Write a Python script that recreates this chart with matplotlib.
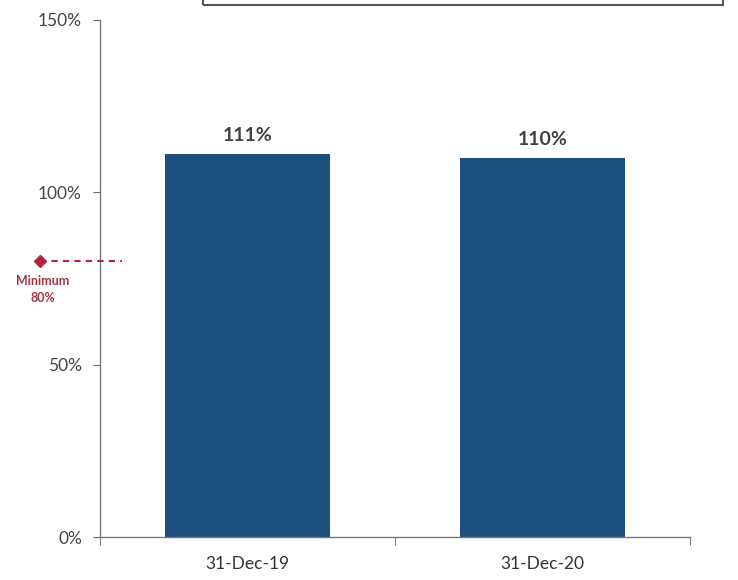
import matplotlib
matplotlib.use("Agg")
import matplotlib.pyplot as plt
from matplotlib.ticker import FixedLocator
from matplotlib.patches import Rectangle

categories = ["31-Dec-19", "31-Dec-20"]
values = [111, 110]
value_labels = ["111%", "110%"]
yticks = [0, 50, 100, 150]
ytick_labels = ["0%", "50%", "100%", "150%"]
minimum = 80
minimum_label = "Minimum\n80%"

plt.rcParams['font.family'] = ['Lato', 'DejaVu Sans']

fig = plt.figure(figsize=(7.38, 5.8), dpi=100)
ax = fig.add_axes([100/738, 1-537/580, 590/738, 517/580])

x = list(range(len(categories)))
ax.bar(x, values, width=0.56, color="#1d4f7e", zorder=2)
for xi, v, lab in zip(x, values, value_labels):
    ax.text(xi, v + 3, lab, ha="center", va="bottom", fontsize=14,
            fontweight="bold", color="#404040")

ax.set_xlim(-0.5, 1.5)
ax.set_ylim(0, 150)
ax.set_yticks(yticks)
ax.set_yticklabels(ytick_labels)
ax.set_xticks(x)
ax.set_xticklabels(categories)
ax.xaxis.set_minor_locator(FixedLocator([-0.5, 0.5, 1.5]))
ax.tick_params(axis="x", which="major", length=0, pad=14, labelsize=12.5, labelcolor="#333333")
ax.tick_params(axis="x", which="minor", length=6, color="#666666", direction="out")
ax.tick_params(axis="y", length=5, color="#666666", labelsize=12.5, labelcolor="#444444", pad=8)

for s in ["top", "right"]:
    ax.spines[s].set_visible(False)
for s in ["left", "bottom"]:
    ax.spines[s].set_color("#777777")
    ax.spines[s].set_linewidth(1.0)

# minimum line
red = "#b8243f"
ax.plot([-0.703, -0.425], [minimum, minimum], ls=(0, (3, 2.5)), color=red,
        lw=1.5, clip_on=False, zorder=3)
ax.plot([-0.703], [minimum], marker="D", color=red, ms=6, clip_on=False, zorder=4)
ax.text(-0.695, minimum - 4, minimum_label, ha="center", va="top", fontsize=9,
        fontweight="bold", color="#a33547", linespacing=1.45, clip_on=False)

# partial box at top of figure (cut off by the image edge)
fig.patches.append(Rectangle((203/738, 1 - 5/580), 520/738, 0.2, transform=fig.transFigure,
                             fill=False, edgecolor="#555555", lw=1.5))

fig.savefig("out.png", dpi=100)
